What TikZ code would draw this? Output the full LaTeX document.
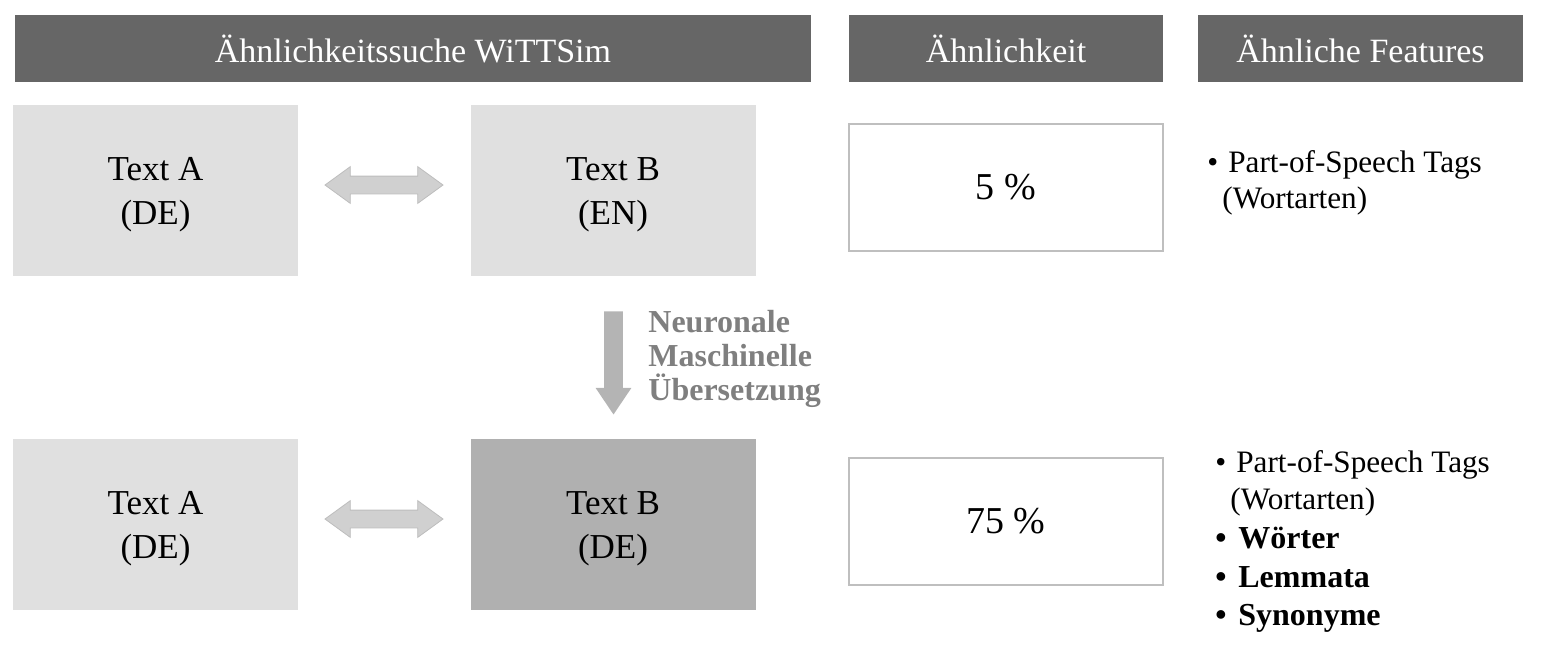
\documentclass[tikz,border=0pt]{standalone}
\usepackage{fontspec}
\setmainfont{Liberation Serif}
\usetikzlibrary{shapes.arrows}
\definecolor{headgray}{HTML}{666666}
\definecolor{lightbox}{HTML}{E0E0E0}
\definecolor{darkbox}{HTML}{B0B0B0}
\definecolor{arrowgray}{HTML}{D0D0D0}
\definecolor{arrowline}{HTML}{BDBDBD}
\definecolor{downgray}{HTML}{B4B4B4}
\definecolor{notegray}{HTML}{7F7F7F}
\definecolor{framegray}{HTML}{BFBFBF}
\newcommand{\bul}[1]{\makebox[#1][l]{•}}

\begin{document}
\begin{tikzpicture}[x=0.5pt,y=-0.5pt,
    head/.style = {fill=headgray, text=white, minimum height=33.5pt, inner sep=0pt, font=\fontsize{17}{20}\selectfont},
    textbox/.style = {fill=lightbox, minimum width=142.5pt, minimum height=85.5pt, align=center, inner sep=0pt, font=\fontsize{17.5}{22}\selectfont},
    valbox/.style = {draw=framegray, line width=0.6pt, fill=white, minimum width=157pt, minimum height=63.5pt, inner sep=0pt, font=\fontsize{19}{22}\selectfont},
    swap/.style = {double arrow, fill=arrowgray, draw=arrowline, line width=0.4pt, minimum height=59pt, inner sep=4.25pt, double arrow head extend=4.75pt, double arrow tip angle=72},
    feat/.style = {anchor=base west, inner sep=0pt, font=\fontsize{15.6}{18}\selectfont},
    boldfeat/.style = {feat, font=\bfseries\fontsize{16}{18}\selectfont}]
\useasboundingbox (0,0) rectangle (1541,645);

% Kopfzeile
\node[head, minimum width=398pt] (hsearch) at (413,48.5) {Ähnlichkeitssuche WiTTSim};
\node[head, minimum width=157pt] (hsim) at (1006,48.5) {Ähnlichkeit};
\node[head, minimum width=162.5pt] (hfeat) at (1360.5,48.5) {Ähnliche Features};

% obere Zeile: DE gegen EN
\node[textbox] (A1) at (155.5,190.5) {\strut Text A\\ (DE)};
\node[textbox] (B1) at (613,190.5) {\strut Text B\\ (EN)};
\node[swap] (S1) at (384,185) {};
\node[valbox] (V1) at (1006,187.5) {5 \%};
\node[feat] (F1) at (1207,172) {\bul{10.5pt}Part-of-Speech Tags};
\node[feat] (F1b) at (1222,208) {(Wortarten)};

% Uebersetzung
\node[single arrow, fill=downgray, shape border rotate=270, minimum height=51.5pt, inner sep=4.5pt,
      single arrow head extend=4.25pt, single arrow tip angle=68] (T) at (613.5,356) {};
\node[anchor=base west, inner sep=0pt, text=notegray, font=\bfseries\fontsize{16}{17}\selectfont] (N1) at (648,332) {Neuronale};
\node[anchor=base west, inner sep=0pt, text=notegray, font=\bfseries\fontsize{16}{17}\selectfont] (N2) at (648,366) {Maschinelle};
\node[anchor=base west, inner sep=0pt, text=notegray, font=\bfseries\fontsize{16}{17}\selectfont] (N3) at (648,400) {Übersetzung};

% untere Zeile: DE gegen DE
\node[textbox] (A2) at (155.5,524.5) {\strut Text A\\ (DE)};
\node[textbox, fill=darkbox] (B2) at (613,524.5) {\strut Text B\\ (DE)};
\node[swap] (S2) at (384,519) {};
\node[valbox] (V2) at (1006,521.5) {75 \%};
\node[feat] (F2) at (1215,472) {\bul{10.5pt}Part-of-Speech Tags};
\node[feat] (F2b) at (1230,509) {(Wortarten)};
\node[boldfeat] (F3) at (1215,548) {\bul{11.5pt}Wörter};
\node[boldfeat] (F4) at (1215,587) {\bul{11.5pt}Lemmata};
\node[boldfeat] (F5) at (1215,625) {\bul{11.5pt}Synonyme};
\end{tikzpicture}
\end{document}
